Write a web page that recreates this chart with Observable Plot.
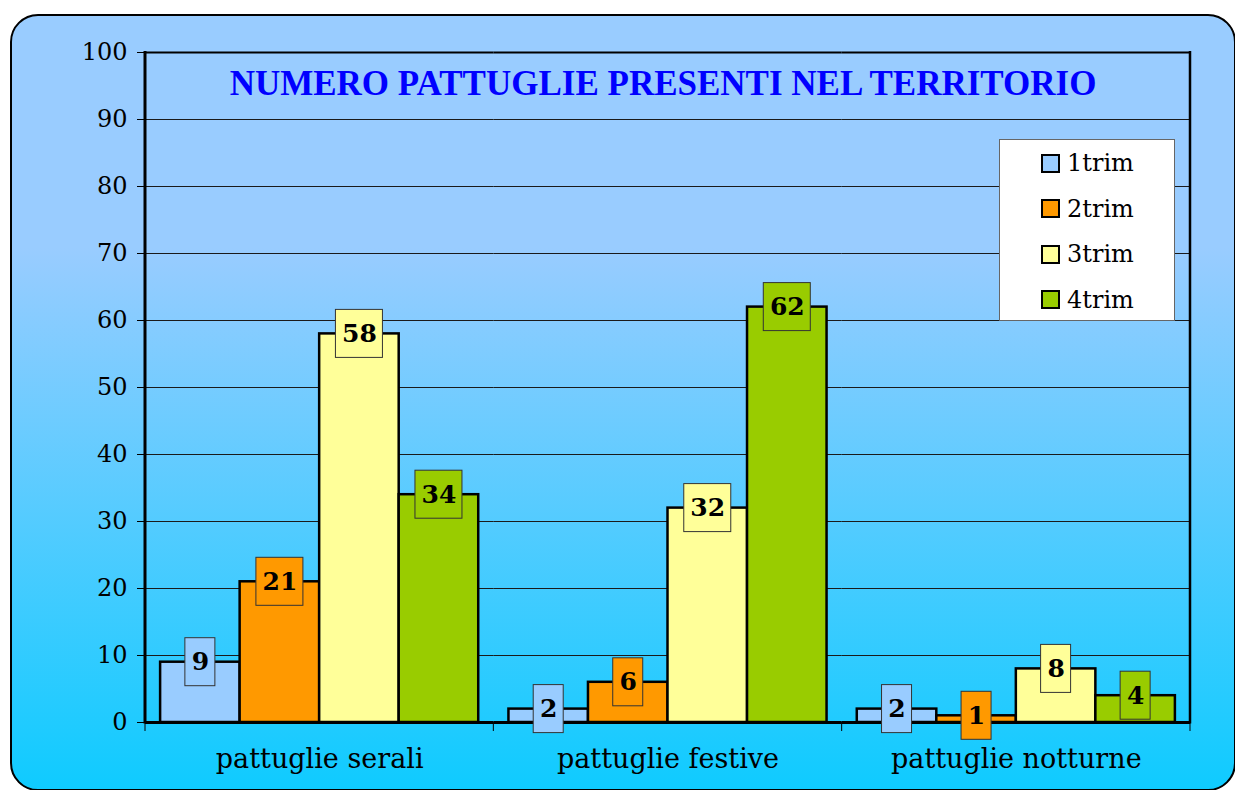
<!DOCTYPE html>
<html>
<head>
<meta charset="utf-8">
<script src="https://cdn.jsdelivr.net/npm/d3@7"></script>
<script src="https://cdn.jsdelivr.net/npm/@observablehq/plot@0.6"></script>
<style>
  html, body { margin: 0; padding: 0; background: #ffffff; }
  #wrap { position: relative; width: 1235px; height: 790px; overflow: hidden; }
  #bg {
    position: absolute; left: 10px; top: 14px; width: 1222px; height: 773px;
    border: 2px solid #000; border-radius: 28px;
    background: linear-gradient(to bottom, #99ccff 0%, #99ccff 30%, #0fcbff 100%);
  }
  #chart { position: absolute; left: 0; top: 0; }
  #legend {
    position: absolute; left: 999px; top: 139px; width: 174px; height: 180px;
    background: #ffffff; border: 1px solid #666;
    font-family: "DejaVu Serif", serif; font-size: 24px; color: #000;
  }
  .item { position: absolute; left: 41px; height: 30px; display: flex; align-items: center; }
  .sw { width: 15px; height: 15px; border: 2px solid #000; margin-right: 7px; }
</style>
</head>
<body>
<div id="wrap">
  <div id="bg"></div>
  <div id="chart"></div>
  <div id="legend"></div>
</div>
<script>
// ---- data ----
const categories = ["pattuglie serali", "pattuglie festive", "pattuglie notturne"];
const series = ["1trim", "2trim", "3trim", "4trim"];
const trim1 = [9, 2, 2];
const trim2 = [21, 6, 1];
const trim3 = [58, 32, 8];
const trim4 = [34, 62, 4];
const colors = ["#99ccff", "#ff9900", "#ffff99", "#99cc00"];
const yTicks = [0, 10, 20, 30, 40, 50, 60, 70, 80, 90, 100];
const title = "NUMERO PATTUGLIE PRESENTI NEL TERRITORIO";

const seriesValues = [trim1, trim2, trim3, trim4];
const data = [];
categories.forEach((c, i) => {
  series.forEach((s, j) => data.push({cat: c, trim: s, v: seriesValues[j][i]}));
});

// ---- layout ----
const W = 1235, H = 790;
const mL = 145, mR = 45, mT = 52, mB = 68;
const padOuter = 0.19;
const facetW = (W - mL - mR) / categories.length;
const bw = facetW / (series.length + 2 * padOuter);
const serif = "'DejaVu Serif', Georgia, serif";

const one = data.filter(d => String(d.v).length === 1);
const two = data.filter(d => String(d.v).length === 2);

const plot = Plot.plot({
  width: W, height: H,
  marginLeft: mL, marginRight: mR, marginTop: mT, marginBottom: mB,
  style: {background: "transparent", fontFamily: serif, overflow: "visible"},
  fx: {domain: categories, padding: 0, round: false},
  x: {domain: series, paddingInner: 0, paddingOuter: padOuter, round: false, axis: null},
  y: {domain: [0, 100]},
  color: {domain: series, range: colors},
  marks: [
    Plot.ruleY(yTicks.filter(d => d > 0 && d < 100), {stroke: "#1a1a1a", strokeWidth: 1.2}),
    Plot.ruleY([100], {stroke: "#000", strokeWidth: 2}),
    Plot.barY(data, {fx: "cat", x: "trim", y: "v", fill: "trim", stroke: "#000", strokeWidth: 2.5}),
    Plot.ruleY([0], {stroke: "#000", strokeWidth: 3}),
    Plot.barY(one, {fx: "cat", x: "trim", y1: "v", y2: "v", fill: "trim", stroke: "#333", strokeWidth: 1,
      insetLeft: (bw - 30) / 2, insetRight: (bw - 30) / 2, insetTop: -24, insetBottom: -24}),
    Plot.barY(two, {fx: "cat", x: "trim", y1: "v", y2: "v", fill: "trim", stroke: "#333", strokeWidth: 1,
      insetLeft: (bw - 47) / 2, insetRight: (bw - 47) / 2, insetTop: -24, insetBottom: -24}),
    Plot.text(data, {fx: "cat", x: "trim", y: "v", text: d => String(d.v), fontFamily: serif,
      fontWeight: "bold", fontSize: 25, fill: "#000"}),
    Plot.text([title], {fx: () => categories[1], frameAnchor: "top", lineAnchor: "middle", dy: 31, dx: -5, text: d => d,
      fontFamily: "'Liberation Serif', 'Times New Roman', serif", fontWeight: "bold", fontSize: 35, fill: "#0000ff"}),
    Plot.axisY({anchor: "left", ticks: yTicks, tickSize: 8, tickPadding: 10, fontSize: 24,
      fontFamily: serif, label: null, stroke: "#000", color: "#000"}),
    Plot.axisFx({anchor: "bottom", tickSize: 0, tickPadding: 26, fontSize: 27, fontFamily: serif, label: null, color: "#000"})
  ]
});

document.getElementById("chart").appendChild(plot);

// frame side borders and boundary ticks below the category axis
(function () {
  const fx = plot.scale("fx");
  const y = plot.scale("y");
  const y0 = y.apply ? y.apply(0) : H - mB;
  const y100 = y.apply ? y.apply(100) : mT;
  const starts = categories.map((c, i) => fx.apply ? fx.apply(c) : mL + i * facetW);
  const bwFx = fx.bandwidth != null ? fx.bandwidth : facetW;
  const xs = starts.concat([starts[starts.length - 1] + bwFx]);
  const svg = d3.select(plot.tagName.toLowerCase() === "svg" ? plot : plot.querySelector("svg"));
  const g = svg.append("g");
  g.selectAll("line.tk").data(xs).join("line").attr("class", "tk")
    .attr("x1", d => d).attr("x2", d => d)
    .attr("y1", y0).attr("y2", y0 + 9)
    .attr("stroke", "#000").attr("stroke-width", 1);
  g.selectAll("line.side").data([{x: xs[0], w: 3}, {x: xs[xs.length - 1], w: 2.5}]).join("line").attr("class", "side")
    .attr("x1", d => d.x).attr("x2", d => d.x)
    .attr("y1", y100 - 1).attr("y2", y0 + 1.5)
    .attr("stroke", "#000").attr("stroke-width", d => d.w);
})();

// legend
const legend = document.getElementById("legend");
series.forEach((s, i) => {
  const item = document.createElement("div");
  item.className = "item";
  item.style.top = (8 + i * 45.5) + "px";
  const sw = document.createElement("div");
  sw.className = "sw";
  sw.style.background = colors[i];
  const t = document.createElement("span");
  t.textContent = s;
  item.appendChild(sw);
  item.appendChild(t);
  legend.appendChild(item);
});
</script>
</body>
</html>
